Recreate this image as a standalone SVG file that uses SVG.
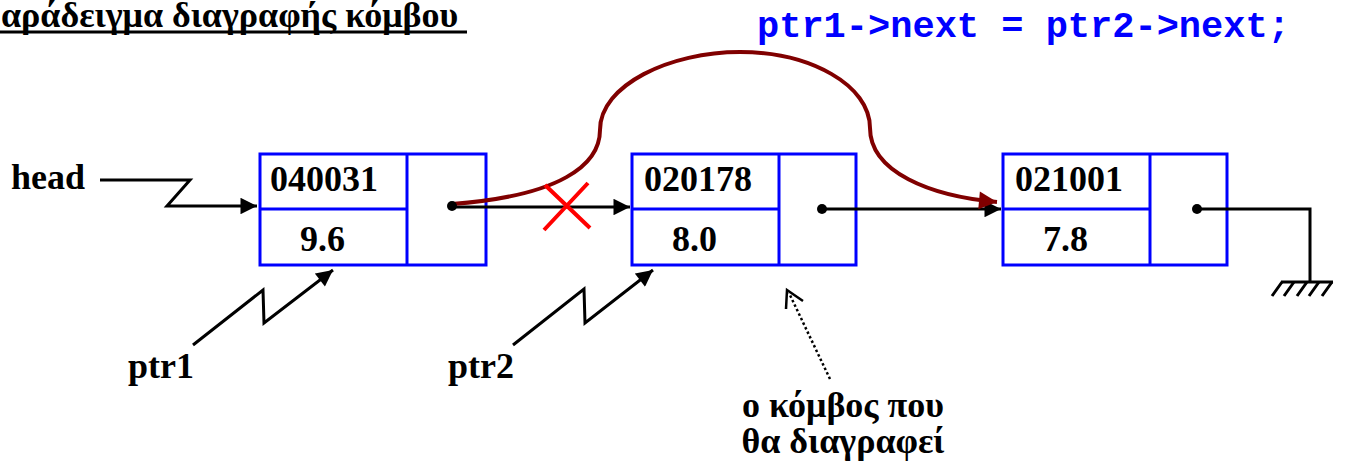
<svg xmlns="http://www.w3.org/2000/svg" width="1345" height="473" viewBox="0 0 1345 473">
<defs>
<style>
.lbl{font-family:"Liberation Serif","Times New Roman",serif;font-weight:bold;font-size:36px;fill:#000}
.ttl{font-family:"Liberation Serif","Times New Roman",serif;font-weight:bold;font-size:36px;fill:#000}
.code{font-family:"Liberation Mono","Courier New",monospace;font-weight:bold;font-size:37px;fill:#0000ff}
.box{fill:#fff;stroke:#0000ff;stroke-width:3}
.bl{stroke:#0000ff;stroke-width:3}
.ln{fill:none;stroke:#000;stroke-width:3}
.dot{fill:#000}
</style>
<marker id="ah" viewBox="0 0 10 10" refX="10" refY="5" markerWidth="6" markerHeight="5.5" markerUnits="strokeWidth" orient="auto">
<path d="M0,0 L10,5 L0,10 z" fill="#000"/>
</marker>
<marker id="ahr" viewBox="0 0 10 10" refX="10" refY="5" markerWidth="5" markerHeight="4.5" markerUnits="strokeWidth" orient="auto">
<path d="M0,0 L10,5 L0,10 z" fill="#800000"/>
</marker>
</defs>
<rect width="1345" height="473" fill="#fff"/>

<g id="title">
<text class="ttl" x="1" y="27">αράδειγμα διαγραφής κόμβου</text>
<line x1="0" y1="32" x2="467" y2="32" stroke="#000" stroke-width="3"/>
</g>

<g id="code">
<text class="code" x="757" y="37">ptr1-&gt;next = ptr2-&gt;next;</text>
</g>

<g id="node1">
<rect class="box" x="260" y="154" width="226" height="111"/>
<line class="bl" x1="407" y1="154" x2="407" y2="265"/>
<line class="bl" x1="260" y1="209" x2="407" y2="209"/>
<text class="lbl" x="270" y="191">040031</text>
<text class="lbl" x="300" y="251">9.6</text>
</g>

<g id="node2">
<rect class="box" x="632" y="154" width="224" height="111"/>
<line class="bl" x1="779" y1="154" x2="779" y2="265"/>
<line class="bl" x1="632" y1="209" x2="779" y2="209"/>
<text class="lbl" x="644" y="191">020178</text>
<text class="lbl" x="672" y="251">8.0</text>
</g>

<g id="node3">
<rect class="box" x="1003" y="154" width="224" height="111"/>
<line class="bl" x1="1150" y1="154" x2="1150" y2="265"/>
<line class="bl" x1="1003" y1="209" x2="1150" y2="209"/>
<text class="lbl" x="1015" y="191">021001</text>
<text class="lbl" x="1043" y="251">7.8</text>
</g>

<g id="head">
<text class="lbl" x="11" y="189">head</text>
</g>
<g id="ptr1">
<text class="lbl" x="128" y="378">ptr1</text>
</g>
<g id="ptr2">
<text class="lbl" x="448" y="378">ptr2</text>
</g>
<g id="note">
<text class="lbl" text-anchor="middle"><tspan x="843" y="417">ο κόμβος που</tspan><tspan x="843" y="453">θα διαγραφεί</tspan></text>
</g>

<g id="ground">
<line class="ln" x1="1281" y1="282" x2="1333" y2="282"/>
<path class="ln" d="M1282,282 L1272,296 M1294,282 L1284,296 M1307,282 L1297,296 M1319,282 L1309,296 M1332,282 L1322,296"/>
</g>

<g id="connectors">
<polyline class="ln" points="100,180 190,180 167,206 257,206" marker-end="url(#ah)"/>
<polyline class="ln" points="193,345 263,290 264,323 333,270" marker-end="url(#ah)"/>
<polyline class="ln" points="513,345 584,289 585,323 653,270" marker-end="url(#ah)"/>
<line class="ln" x1="452" y1="207" x2="630" y2="207" marker-end="url(#ah)"/>
<line class="ln" x1="822" y1="209" x2="1001" y2="209" marker-end="url(#ah)"/>
<polyline class="ln" points="1197,209 1310,209 1310,282"/>
<path d="M452,204 C560,196 600,165 600,130 C600,85 670,52 740,52 C810,52 870,85 870,128 C870,172 930,196 997,202" fill="none" stroke="#800000" stroke-width="4" marker-end="url(#ahr)"/>
<line x1="830" y1="379" x2="789" y2="293" stroke="#000" stroke-width="2.5" stroke-dasharray="2.5,2.5"/>
<polyline points="803,301 787,290 786,309" fill="none" stroke="#000" stroke-width="2.5"/>
<path d="M545,185 L590,228 M588,183 L544,230" stroke="#ff0000" stroke-width="4" fill="none"/>
<circle class="dot" cx="452" cy="206" r="5"/>
<circle class="dot" cx="822" cy="209" r="5"/>
<circle class="dot" cx="1197" cy="209" r="5"/>
</g>
</svg>
